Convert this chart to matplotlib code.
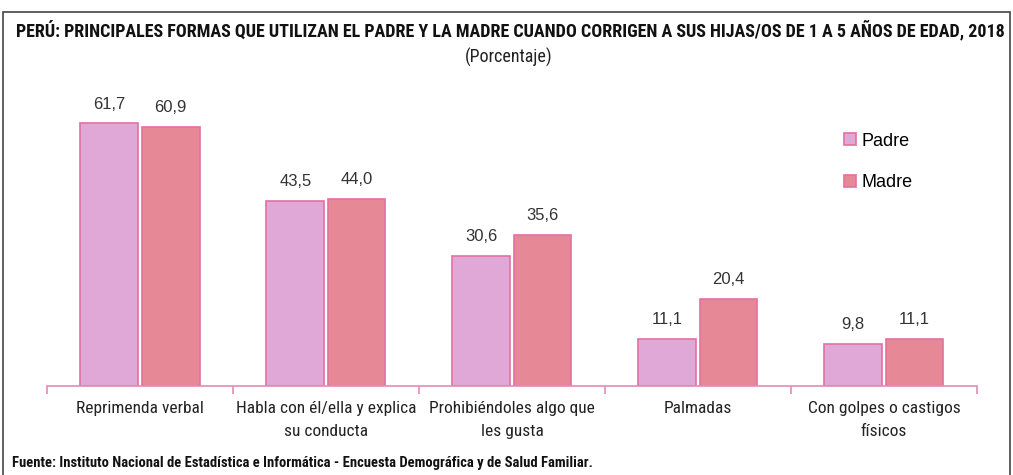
import matplotlib
matplotlib.use("Agg")
from matplotlib import pyplot as plt
from matplotlib.patches import Rectangle
import numpy as np

categories = ["Reprimenda verbal", "Habla con él/ella y explica\nsu conducta",
              "Prohibiéndoles algo que\nles gusta", "Palmadas", "Con golpes o castigos\nfísicos"]
padre = [61.7, 43.5, 30.6, 11.1, 9.8]
madre = [60.9, 44.0, 35.6, 20.4, 11.1]
series_names = ["Padre", "Madre"]

colors = ["#DFA8D7", "#E78896"]
edge = "#E46FA3"
narrow = ["Roboto Condensed", "DejaVu Sans"]
sans = ["Liberation Sans", "DejaVu Sans"]

fig = plt.figure(figsize=(10.13, 4.75), dpi=100)
ax = fig.add_axes([0.0464, 0.1874, 0.918, 0.627])

x = np.arange(len(categories))
w = 0.31
gap = 0.01
b1 = ax.bar(x - w / 2 - gap, padre, w, color=colors[0], edgecolor=edge, linewidth=1.2, label=series_names[0])
b2 = ax.bar(x + w / 2 + gap, madre, w, color=colors[1], edgecolor=edge, linewidth=1.2, label=series_names[1])

for bars, vals in [(b1, padre), (b2, madre)]:
    for bar, v in zip(bars, vals):
        ax.text(bar.get_x() + bar.get_width() / 2, v + 2.8, f"{v:.1f}".replace(".", ","),
                ha="center", va="bottom", fontsize=12, family=sans, color="#333333")

ax.set_xlim(-0.5, len(categories) - 0.5)
ax.set_ylim(0, 70)
ax.set_yticks([])
for s in ["top", "right", "left"]:
    ax.spines[s].set_visible(False)
ax.spines["bottom"].set_color("#E58BB5")
ax.spines["bottom"].set_linewidth(1.2)
ax.set_xticks(x)
ax.set_xticklabels(categories, fontsize=12.5, family=narrow, color="#222222", linespacing=1.65)
ax.tick_params(axis="x", which="major", length=0, pad=11)
ax.set_xticks(np.arange(-0.5, len(categories)), minor=True)
ax.tick_params(axis="x", which="minor", length=6, color="#E58BB5", width=1.2)

leg = ax.legend(loc="upper left", bbox_to_anchor=(0.84, 0.905), frameon=False,
                prop={"family": sans, "size": 13}, handlelength=0.65, handleheight=0.65,
                handletextpad=0.3, labelspacing=1.35)

fig.text(0.504, 0.937, "PERÚ: PRINCIPALES FORMAS QUE UTILIZAN EL PADRE Y LA MADRE CUANDO CORRIGEN A SUS HIJAS/OS DE 1 A 5 AÑOS DE EDAD, 2018",
         ha="center", va="center", fontsize=13, fontweight="bold", family=narrow, color="#111111")
fig.text(0.502, 0.88, "(Porcentaje)", ha="center", va="center", fontsize=13, family=narrow, color="#222222")
fig.text(0.012, 0.025, "Fuente: Instituto Nacional de Estadística e Informática - Encuesta Demográfica y de Salud Familiar.",
         ha="left", va="center", fontsize=10.5, fontweight="bold", family=narrow, color="#111111")

fig.patches.append(Rectangle((0.003, -0.01), 0.994, 0.985, transform=fig.transFigure,
                             fill=False, edgecolor="#444444", linewidth=1.2))

fig.savefig("out.png", dpi=100)
